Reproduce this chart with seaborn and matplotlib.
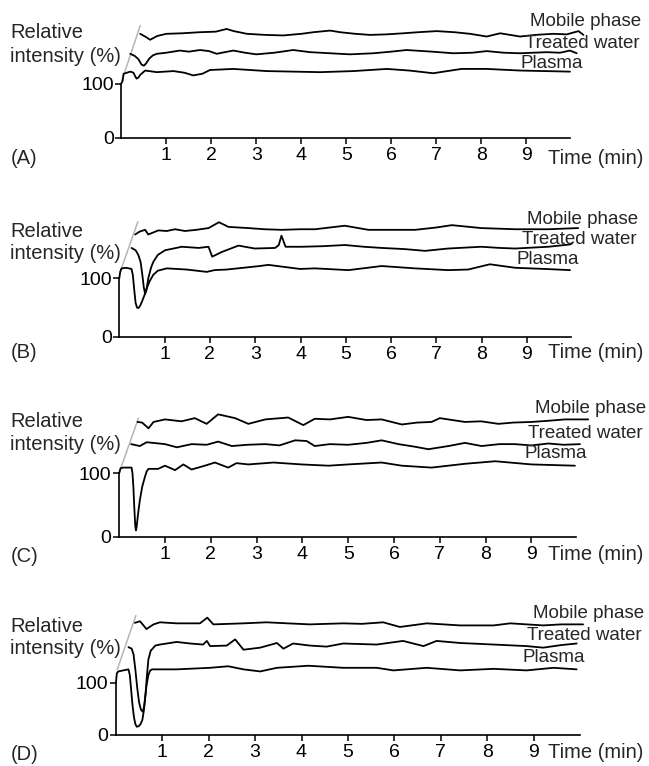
import matplotlib
matplotlib.use("Agg")
import matplotlib.pyplot as plt
import seaborn as sns
import pandas as pd

# ---------------- data (relative intensity, traces stacked as displayed) ----------------
TICKS_X = [1, 2, 3, 4, 5, 6, 7, 8, 9]
TICKS_Y = [0, 100]
TRACE_NAMES = ["Plasma", "Treated water", "Mobile phase"]
PANEL_LABELS = ["(A)", "(B)", "(C)", "(D)"]

A_PLASMA_T = [0.0, 0.03, 0.05, 0.2, 0.27, 0.31, 0.34, 0.38, 0.42, 0.53, 0.79, 1.16, 1.4, 1.6, 1.8, 1.97, 2.49, 3.23, 4.42, 5.16, 5.9, 6.4, 6.93, 7.56, 8.12, 8.86, 9.97]
A_PLASMA_V = [100, 105, 118, 122, 120, 113, 109, 111, 116, 124, 121, 123, 120, 115, 118, 125, 127, 123, 121, 123, 127, 124, 119, 127, 127, 124, 122]
A_TREATED_T = [0.2, 0.3, 0.38, 0.45, 0.5, 0.55, 0.62, 0.7, 0.79, 1.0, 1.3, 1.5, 1.75, 1.95, 2.12, 2.3, 2.49, 2.75, 3.0, 3.4, 3.82, 4.2, 4.64, 5.08, 5.6, 6.0, 6.34, 6.9, 7.38, 7.8, 8.12, 8.5, 8.86, 9.45, 9.75, 9.97, 10.12]
A_TREATED_V = [155, 151, 145, 135, 133, 137, 146, 152, 155, 157, 161, 159, 162, 160, 155, 158, 161, 157, 154, 157, 162, 158, 156, 154, 156, 159, 162, 159, 156, 157, 160, 157, 156, 158, 157, 161, 156]
A_MOBILE_T = [0.42, 0.55, 0.64, 0.8, 1.0, 1.35, 1.75, 2.1, 2.34, 2.5, 2.79, 3.2, 3.6, 4.0, 4.27, 4.64, 4.86, 5.2, 5.53, 5.9, 6.27, 6.6, 7.01, 7.4, 7.75, 8.12, 8.42, 8.86, 9.2, 9.6, 9.9, 10.16, 10.27]
A_MOBILE_V = [192, 186, 181, 188, 192, 193, 195, 196, 201, 197, 192, 190, 189, 192, 195, 198, 195, 192, 190, 191, 193, 195, 197, 195, 192, 187, 193, 187, 190, 192, 191, 197, 190]
A_GUIDE_T = [0.01, 0.42]
A_GUIDE_V = [105, 207]

B_PLASMA_T = [0.0, 0.02, 0.05, 0.15, 0.27, 0.3, 0.33, 0.36, 0.39, 0.42, 0.46, 0.5, 0.55, 0.6, 0.67, 0.75, 0.85, 1.05, 1.49, 1.93, 2.1, 2.37, 3.1, 3.29, 3.99, 4.32, 5.06, 5.79, 6.53, 7.26, 7.7, 8.18, 8.74, 9.4, 9.95]
B_PLASMA_V = [100, 111, 117, 118, 116, 105, 80, 58, 50, 49, 53, 60, 70, 82, 95, 106, 113, 117, 115, 111, 114, 115, 121, 123, 116, 117, 114, 121, 117, 114, 115, 124, 118, 116, 114]
B_TREATED_T = [0.27, 0.36, 0.42, 0.47, 0.51, 0.54, 0.57, 0.6, 0.64, 0.7, 0.75, 0.85, 1.01, 1.38, 1.75, 1.97, 2.05, 2.26, 2.63, 2.99, 3.44, 3.52, 3.58, 3.67, 4.03, 4.5, 4.98, 5.4, 5.79, 6.3, 6.75, 7.26, 7.99, 8.4, 8.74, 9.47, 9.95, 10.0]
B_TREATED_V = [152, 148, 140, 128, 105, 85, 73, 80, 100, 118, 128, 140, 148, 154, 152, 154, 137, 145, 156, 151, 152, 157, 173, 154, 154, 155, 157, 154, 152, 150, 147, 151, 154, 152, 151, 154, 158, 160]
B_MOBILE_T = [0.35, 0.45, 0.57, 0.64, 0.86, 1.05, 1.23, 1.45, 1.7, 1.97, 2.2, 2.41, 2.85, 3.2, 3.58, 4.0, 4.32, 4.98, 5.5, 6.0, 6.53, 7.0, 7.34, 7.99, 8.74, 9.47, 10.13]
B_MOBILE_V = [175, 180, 183, 175, 182, 181, 184, 181, 183, 186, 196, 188, 186, 184, 183, 184, 184, 190, 183, 183, 183, 187, 191, 186, 184, 184, 186]
B_GUIDE_T = [0.02, 0.41]
B_GUIDE_V = [111, 197]

C_PLASMA_T = [0.0, 0.03, 0.09, 0.27, 0.29, 0.31, 0.33, 0.35, 0.365, 0.38, 0.41, 0.45, 0.5, 0.56, 0.6, 0.64, 0.85, 1.0, 1.22, 1.4, 1.58, 1.87, 2.09, 2.38, 2.56, 2.82, 3.37, 3.98, 4.57, 5.0, 5.73, 6.17, 6.82, 7.55, 8.21, 9.0, 9.95]
C_PLASMA_V = [100, 108, 109, 109, 100, 78, 45, 18, 10, 15, 35, 57, 78, 94, 103, 107, 107, 112, 105, 114, 106, 112, 117, 109, 116, 114, 117, 114, 112, 114, 117, 112, 109, 115, 119, 114, 112]
C_TREATED_T = [0.26, 0.45, 0.6, 1.0, 1.26, 1.58, 1.91, 2.16, 2.46, 2.8, 3.19, 3.5, 3.84, 4.09, 4.27, 4.6, 5.0, 5.4, 5.73, 6.1, 6.45, 6.75, 7.19, 7.55, 7.91, 8.3, 8.64, 9.0, 9.37, 9.7, 10.06]
C_TREATED_V = [146, 143, 149, 146, 141, 146, 145, 150, 143, 145, 146, 144, 152, 151, 143, 146, 145, 148, 152, 146, 142, 138, 143, 148, 143, 146, 146, 144, 147, 145, 146]
C_MOBILE_T = [0.4, 0.5, 0.64, 0.75, 1.0, 1.36, 1.65, 1.91, 2.16, 2.53, 2.82, 3.19, 3.69, 4.02, 4.27, 4.6, 5.0, 5.4, 5.73, 6.17, 6.5, 6.82, 7.0, 7.55, 7.9, 8.28, 8.6, 9.0, 9.4, 9.73, 10.24]
C_MOBILE_V = [181, 180, 171, 181, 185, 182, 187, 178, 193, 187, 178, 185, 188, 176, 186, 185, 189, 184, 185, 177, 180, 181, 187, 181, 182, 178, 180, 181, 183, 185, 185]
C_GUIDE_T = [0.02, 0.42]
C_GUIDE_V = [105, 187]

D_PLASMA_T = [0.0, 0.02, 0.05, 0.27, 0.3, 0.33, 0.36, 0.39, 0.42, 0.45, 0.49, 0.53, 0.57, 0.6, 0.63, 0.66, 0.7, 0.74, 0.78, 1.31, 2.03, 2.42, 2.75, 3.11, 3.47, 4.15, 4.9, 5.62, 5.98, 6.7, 7.42, 8.14, 8.85, 9.43, 9.93]
D_PLASMA_V = [100, 118, 122, 126, 115, 85, 55, 33, 20, 15, 16, 20, 28, 45, 70, 95, 115, 124, 126, 126, 129, 132, 126, 122, 129, 133, 129, 129, 124, 129, 124, 127, 124, 129, 126]
D_TREATED_T = [0.27, 0.34, 0.38, 0.42, 0.46, 0.5, 0.54, 0.58, 0.61, 0.64, 0.67, 0.7, 0.75, 0.85, 0.95, 1.31, 1.6, 1.88, 1.96, 2.03, 2.39, 2.57, 2.75, 3.11, 3.47, 3.61, 3.82, 4.18, 4.54, 4.9, 5.25, 5.62, 6.19, 6.63, 6.91, 7.42, 8.14, 8.85, 9.21, 9.6, 9.93]
D_TREATED_V = [169, 166, 155, 125, 90, 62, 48, 44, 55, 80, 115, 145, 162, 172, 174, 179, 176, 174, 181, 171, 172, 184, 164, 168, 177, 166, 176, 172, 170, 176, 175, 174, 181, 171, 181, 177, 174, 171, 168, 173, 176]
D_MOBILE_T = [0.41, 0.52, 0.66, 0.81, 0.95, 1.31, 1.81, 1.97, 2.1, 2.75, 3.25, 3.7, 4.18, 4.9, 5.3, 5.76, 6.12, 6.7, 7.42, 8.14, 8.5, 9.21, 9.6, 10.07]
D_MOBILE_V = [216, 219, 204, 213, 217, 215, 215, 226, 213, 215, 217, 215, 213, 215, 214, 217, 208, 215, 211, 211, 215, 211, 213, 213]
D_GUIDE_T = [0.03, 0.43]
D_GUIDE_V = [126, 230]

PANELS = [
    (A_PLASMA_T, A_PLASMA_V, A_TREATED_T, A_TREATED_V, A_MOBILE_T, A_MOBILE_V, A_GUIDE_T, A_GUIDE_V),
    (B_PLASMA_T, B_PLASMA_V, B_TREATED_T, B_TREATED_V, B_MOBILE_T, B_MOBILE_V, B_GUIDE_T, B_GUIDE_V),
    (C_PLASMA_T, C_PLASMA_V, C_TREATED_T, C_TREATED_V, C_MOBILE_T, C_MOBILE_V, C_GUIDE_T, C_GUIDE_V),
    (D_PLASMA_T, D_PLASMA_V, D_TREATED_T, D_TREATED_V, D_MOBILE_T, D_MOBILE_V, D_GUIDE_T, D_GUIDE_V),
]

# ---------------- layout (pixels) ----------------
W, H = 649, 766
# t0 px, px per min, x-axis y px, px per unit, x-axis end px
GEOM = [
    (121.3, 45.0, 137.5, 0.54, 570.0),
    (119.3, 45.3, 336.7, 0.584, 571.0),
    (119.2, 45.8, 536.7, 0.634, 576.0),
    (115.9, 46.4, 734.5, 0.517, 580.0),
]
REL_Y = [(33, 57), (231.7, 253.3), (421.7, 445), (626.7, 648.3)]
PANEL_LAB_Y = [158, 353, 556, 754]
TIME_Y = [158, 353, 555, 752]
NAME_POS = [
    [(520, 63), (525, 44), (530, 21)],
    [(517, 260), (522, 239), (527, 219)],
    [(525, 453), (528, 433), (535, 409)],
    [(523, 658), (527, 636), (533, 614)],
]

sns.set_theme(style="ticks")
plt.rcParams["font.family"] = ["Liberation Sans", "DejaVu Sans"]

fig = plt.figure(figsize=(W / 100, H / 100), dpi=100)
fig.patch.set_facecolor("white")

AX_H = 140.0
for i, (geom, panel) in enumerate(zip(GEOM, PANELS)):
    t0, sx, ay, sy, xend = geom
    ax = fig.add_axes([t0 / W, 1 - ay / H, (xend - t0) / W, AX_H / H])
    ax.set_facecolor("none")
    pt, pv, tt, tv, mt, mv, gt, gv = panel
    df = pd.concat([
        pd.DataFrame({"t": pt, "v": pv, "trace": TRACE_NAMES[0]}),
        pd.DataFrame({"t": tt, "v": tv, "trace": TRACE_NAMES[1]}),
        pd.DataFrame({"t": mt, "v": mv, "trace": TRACE_NAMES[2]}),
    ], ignore_index=True)
    guide = pd.DataFrame({"t": gt, "v": gv})
    sns.lineplot(data=guide, x="t", y="v", ax=ax, color="#b5b5b5", lw=1.1, sort=False)
    sns.lineplot(data=df, x="t", y="v", units="trace", estimator=None, sort=False,
                 color="black", lw=1.3, ax=ax, legend=False)
    for ln in ax.lines:
        ln.set_clip_on(False)
        ln.set_solid_joinstyle("round")
    ax.set_xlim(0, (xend - t0) / sx)
    ax.set_ylim(0, AX_H / sy)
    ax.set_xticks(TICKS_X)
    ax.set_xticklabels([str(x) for x in TICKS_X])
    ax.set_yticks(TICKS_Y)
    ax.set_yticklabels([str(y) for y in TICKS_Y])
    ax.set_xlabel("")
    ax.set_ylabel("")
    ax.spines["top"].set_visible(False)
    ax.spines["right"].set_visible(False)
    ax.spines["left"].set_bounds(0, 100)
    for s in ("left", "bottom"):
        ax.spines[s].set_linewidth(1.2)
        ax.spines[s].set_color("black")
    ax.tick_params(axis="both", direction="out", length=4, width=1.1, colors="black",
                   labelsize=14)
    ax.tick_params(axis="y", pad=1.5)
    ax.tick_params(axis="x", pad=3)

    fig.text(10 / W, 1 - REL_Y[i][0] / H, "Relative", fontsize=14.5, va="center", ha="left")
    fig.text(10 / W, 1 - REL_Y[i][1] / H, "intensity (%)", fontsize=14.5, va="center", ha="left")
    fig.text(11 / W, 1 - PANEL_LAB_Y[i] / H, PANEL_LABELS[i], fontsize=14.5, va="center", ha="left")
    fig.text(548 / W, 1 - TIME_Y[i] / H, "Time (min)", fontsize=14.5, va="center", ha="left")
    for name, (nx, ny) in zip(TRACE_NAMES, NAME_POS[i]):
        fig.text(nx / W, 1 - ny / H, name, fontsize=13.5, va="center", ha="left")

fig.savefig("out.png", dpi=100, facecolor="white")
